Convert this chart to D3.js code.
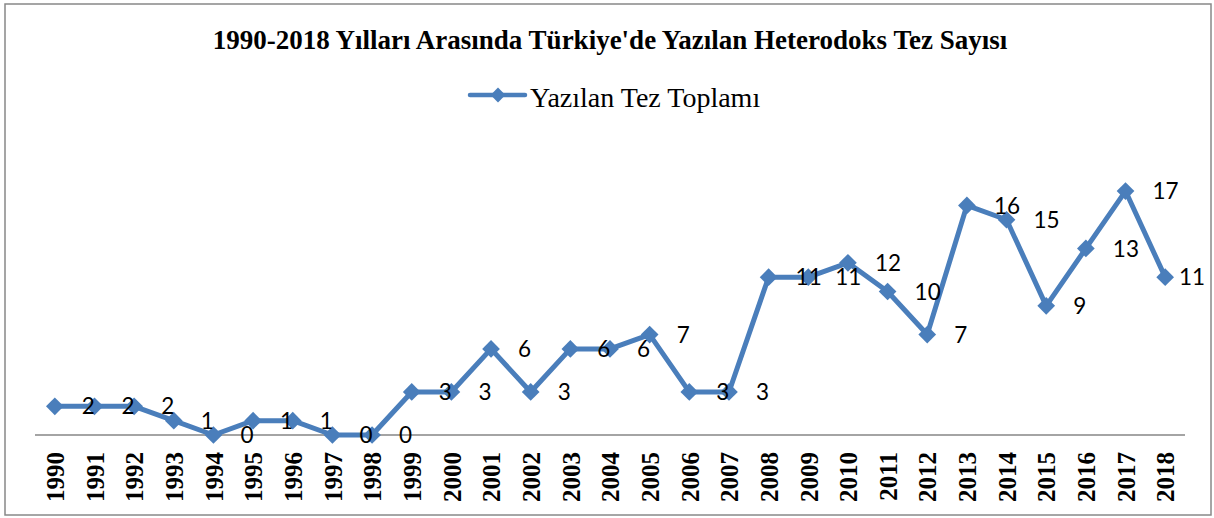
<!doctype html>
<html>
<head>
<meta charset="utf-8">
<title>Heterodoks Tez Sayısı</title>
<script src="https://cdnjs.cloudflare.com/ajax/libs/d3/7.8.5/d3.min.js"></script>
<style>
  body { margin: 0; background: #fff; }
  svg { display: block; }
</style>
</head>
<body>
<svg width="1214" height="518"></svg>
<script>
  // chart data
  var titleText = "1990-2018 Yılları Arasında Türkiye'de Yazılan Heterodoks Tez Sayısı";
  var seriesName = "Yazılan Tez Toplamı";
  var years = ["1990","1991","1992","1993","1994","1995","1996","1997","1998","1999",
               "2000","2001","2002","2003","2004","2005","2006","2007","2008","2009",
               "2010","2011","2012","2013","2014","2015","2016","2017","2018"];
  var counts = [2,2,2,1,0,1,1,0,0,3,
                3,6,3,6,6,7,3,3,11,11,
                12,10,7,16,15,9,13,17,11];

  var data = years.map((y, i) => ({year: y, value: counts[i]}));
  var blue = "#4a7ebb";

  var svg = d3.select("svg");

  // outer frame
  svg.append("rect")
      .attr("x", 5).attr("y", 4)
      .attr("width", 1206).attr("height", 511)
      .attr("fill", "none")
      .attr("stroke", "#888")
      .attr("stroke-width", 1.5);

  // title
  svg.append("text")
      .attr("x", 610).attr("y", 49)
      .attr("text-anchor", "middle")
      .style("font-family", "'Liberation Serif', 'Times New Roman', serif")
      .style("font-weight", "bold")
      .style("font-size", "27px")
      .text(titleText);

  // legend
  var legend = svg.append("g").attr("transform", "translate(470,95)");
  legend.append("line")
      .attr("x1", 0).attr("x2", 55)
      .attr("stroke", blue).attr("stroke-width", 4.5)
      .attr("stroke-linecap", "round");
  legend.append("path")
      .attr("d", d3.symbol(d3.symbolDiamond2, 140)())
      .attr("transform", "translate(28,0)")
      .attr("fill", blue);
  legend.append("text")
      .attr("x", 60).attr("y", 12)
      .style("font-family", "'Liberation Serif', 'Times New Roman', serif")
      .style("font-size", "28px")
      .text(seriesName);

  // scales
  var xScale = d3.scalePoint().domain(years).range([35, 1185]).padding(0.5);
  var yScale = d3.scaleLinear().domain([0, 20]).range([435, 148]);

  // x axis: line only, rotated bold year labels
  var xAxis = d3.axisBottom(xScale).tickSize(0).tickPadding(0);
  var gx = svg.append("g")
      .attr("transform", "translate(0,435)")
      .call(xAxis);
  gx.select(".domain")
      .attr("d", "M35,0H1185")
      .attr("stroke", "#868686")
      .attr("stroke-width", 1.5);
  gx.selectAll(".tick text")
      .attr("transform", "translate(0,17) rotate(-90)")
      .attr("x", 0).attr("y", 0)
      .attr("dy", "0.35em")
      .attr("text-anchor", "end")
      .style("font-family", "'Liberation Serif', 'Times New Roman', serif")
      .style("font-weight", "bold")
      .style("font-size", "25px")
      .attr("fill", "#000");

  // line
  var line = d3.line()
      .x(d => xScale(d.year))
      .y(d => yScale(d.value));

  svg.append("path")
      .datum(data)
      .attr("d", line)
      .attr("fill", "none")
      .attr("stroke", blue)
      .attr("stroke-width", 5)
      .attr("stroke-linejoin", "round");

  // markers
  svg.selectAll(".marker")
      .data(data)
      .enter()
      .append("path")
      .attr("class", "marker")
      .attr("d", d3.symbol(d3.symbolDiamond2, 200)())
      .attr("transform", d => "translate(" + xScale(d.year) + "," + yScale(d.value) + ")")
      .attr("fill", blue);

  // data labels, right of each point, kept inside the frame
  svg.selectAll(".lbl")
      .data(data)
      .enter()
      .append("text")
      .attr("class", "lbl")
      .attr("x", d => xScale(d.year) + 27)
      .attr("y", d => yScale(d.value))
      .attr("dy", "0.36em")
      .style("font-family", "Lato, 'Open Sans', sans-serif")
      .style("font-size", "22.5px")
      .attr("fill", "#000")
      .text(d => d.value)
      .each(function() {
          var el = d3.select(this);
          var w = this.getComputedTextLength();
          var x = +el.attr("x");
          if (x + w > 1205) el.attr("x", 1205 - w);
      });
</script>
</body>
</html>
